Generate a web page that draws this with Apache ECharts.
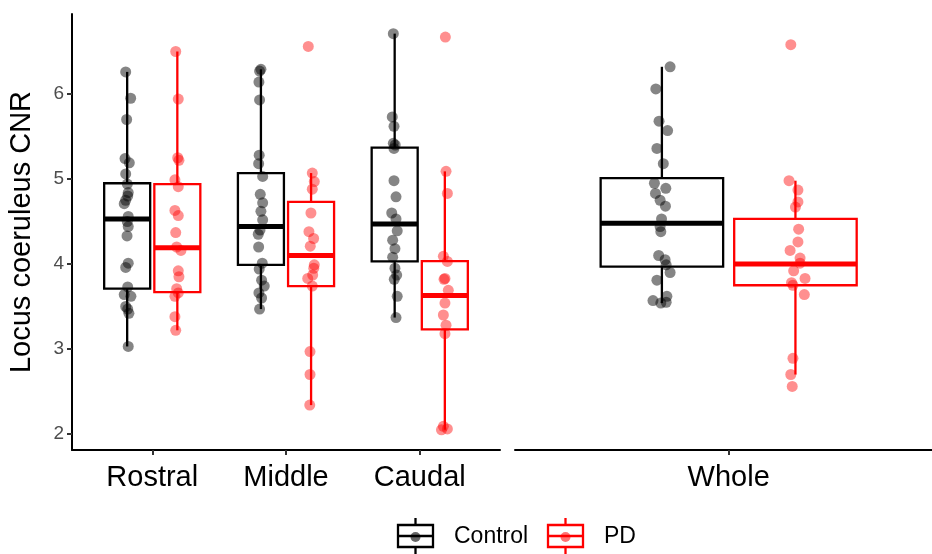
<!DOCTYPE html>
<html>
<head>
<meta charset="utf-8">
<script src="https://cdn.jsdelivr.net/npm/echarts@6/dist/echarts.min.js"></script>
<style>
  html, body { margin: 0; padding: 0; background: #ffffff; }
  #chart { width: 932px; height: 554px; }
</style>
</head>
<body>
<div id="chart"></div>
<script>
// Categories and tick labels
const regions = ['Rostral', 'Middle', 'Caudal'];
const wholeLabel = ['Whole'];
const groups = ['Control', 'PD'];
const yTicks = [2, 3, 4, 5, 6];
const axisTitle = 'Locus coeruleus CNR';

// Individual CNR values per region and group
const rostralControl = [6.26, 5.95, 5.70, 5.24, 5.19, 5.06, 4.94, 4.84, 4.80, 4.75, 4.71, 4.56, 4.50, 4.44, 4.33, 4.01, 3.96, 3.73, 3.64, 3.62, 3.50, 3.47, 3.42, 3.03];
const rostralPD = [6.50, 5.94, 5.25, 5.22, 4.99, 4.91, 4.63, 4.57, 4.37, 4.20, 4.16, 3.92, 3.85, 3.71, 3.66, 3.62, 3.38, 3.22];
const middleControl = [6.29, 6.27, 6.14, 5.93, 5.28, 5.18, 5.03, 4.82, 4.72, 4.62, 4.52, 4.40, 4.35, 4.20, 4.01, 3.94, 3.81, 3.74, 3.66, 3.60, 3.47];
const middlePD = [6.56, 5.07, 4.97, 4.88, 4.60, 4.38, 4.30, 4.21, 3.99, 3.95, 3.87, 3.83, 3.74, 2.97, 2.70, 2.34];
const caudalControl = [6.71, 5.73, 5.62, 5.42, 5.40, 5.36, 4.98, 4.79, 4.60, 4.53, 4.39, 4.28, 4.18, 4.08, 3.95, 3.87, 3.82, 3.62, 3.37];
const caudalPD = [6.67, 5.09, 4.83, 4.09, 4.03, 3.83, 3.82, 3.69, 3.54, 3.40, 3.28, 3.18, 2.09, 2.06, 2.05];
const wholeControl = [6.32, 6.06, 5.68, 5.57, 5.36, 5.18, 4.95, 4.89, 4.83, 4.75, 4.68, 4.53, 4.44, 4.38, 4.10, 4.05, 3.99, 3.90, 3.81, 3.62, 3.57, 3.54, 3.55];
const wholePD = [6.58, 4.98, 4.87, 4.73, 4.67, 4.41, 4.26, 4.16, 4.07, 4.01, 3.92, 3.83, 3.78, 3.75, 3.64, 2.89, 2.70, 2.56];

// Horizontal jitter of each point (category units)
const rostralControlJitter = [-0.011, 0.026, -0.004, -0.016, 0.016, -0.011, 0.001, 0.008, 0.004, -0.011, -0.022, 0.008, 0.001, 0.008, -0.001, 0.008, -0.011, 0.004, -0.022, 0.028, -0.011, 0.004, 0.013, 0.008];
const rostralPDJitter = [-0.012, 0.007, 0.003, 0.012, -0.018, 0.007, -0.018, 0.007, -0.012, -0.005, 0.027, 0.007, 0.012, -0.005, 0.007, -0.018, -0.018, -0.012];
const middleControlJitter = [0, -0.010, -0.015, -0.010, -0.013, -0.017, 0.013, -0.005, 0.013, 0, 0.013, -0.007, -0.020, -0.017, 0.010, -0.013, 0.005, 0.025, -0.015, 0.005, -0.010];
const middlePDJitter = [-0.021, 0.009, 0.024, 0.009, -0.001, -0.016, 0.019, -0.006, 0.024, 0.020, 0.012, -0.025, 0.009, -0.008, -0.008, -0.010];
const caudalControlJitter = [-0.010, -0.018, -0.005, -0.010, 0.004, -0.005, -0.005, 0.010, -0.022, 0.010, 0.019, -0.015, 0.002, -0.015, 0.002, 0.015, -0.003, 0.019, 0.010];
const caudalPDJitter = [0.004, 0.009, 0.019, -0.011, 0.019, 0.001, -0.006, 0.026, 0.001, -0.011, 0.009, 0.001, -0.011, 0.019, -0.025];
const wholeControlJitter = [0.023, -0.017, -0.008, 0.016, -0.014, 0.004, -0.021, 0.011, -0.018, -0.005, 0.010, -0.001, -0.005, -0.003, -0.009, 0.009, 0.012, 0.023, -0.014, 0.014, -0.025, -0.003, 0.012];
const wholePDJitter = [-0.013, -0.018, 0.007, 0.007, 0, 0.009, 0.007, -0.015, 0.013, 0.013, -0.005, 0.027, -0.011, -0.007, 0.025, -0.007, -0.013, -0.009];

// Box summaries: [lower whisker, Q1, median, Q3, upper whisker]
const rostralControlBox = [3.03, 3.71, 4.53, 4.95, 6.26];
const rostralPDBox = [3.22, 3.67, 4.19, 4.94, 6.50];
const middleControlBox = [3.47, 3.99, 4.44, 5.07, 6.29];
const middlePDBox = [2.34, 3.74, 4.10, 4.73, 5.07];
const caudalControlBox = [3.37, 4.03, 4.47, 5.37, 6.71];
const caudalPDBox = [2.05, 3.23, 3.63, 4.035, 5.09];
const wholeControlBox = [3.54, 3.97, 4.48, 5.01, 6.32];
const wholePDBox = [2.70, 3.75, 4.00, 4.53, 4.98];

// Styling
const DODGE = 0.1875;
const HALF_BOX = 0.172;
const CONTROL_LINE = '#000000';
const PD_LINE = '#FF0000';
const CONTROL_POINT = 'rgba(0,0,0,0.6)';
const PD_POINT = 'rgba(255,0,0,0.55)';
const FONT = 'Liberation Sans, Arial, Helvetica, sans-serif';
const Y_MIN = 1.812, Y_MAX = 6.941;

function boxItem(cat, offset, box) {
  return [cat + offset].concat(box);
}
function pointItems(cat, offset, values, jitter) {
  return values.map((v, i) => [cat + offset + jitter[i], v]);
}

function makeRenderer(color) {
  return function (params, api) {
    const x = api.value(0);
    const lo = api.value(1), q1 = api.value(2), med = api.value(3), q3 = api.value(4), hi = api.value(5);
    const pHi = api.coord([x, hi]);
    const pQ3 = api.coord([x, q3]);
    const pQ1 = api.coord([x, q1]);
    const pLo = api.coord([x, lo]);
    const left = api.coord([x - HALF_BOX, med]);
    const right = api.coord([x + HALF_BOX, med]);
    const lineStyle = { stroke: color, lineWidth: 2.3, fill: null };
    return {
      type: 'group',
      children: [
        { type: 'line', shape: { x1: pHi[0], y1: pHi[1], x2: pQ3[0], y2: pQ3[1] }, style: lineStyle },
        { type: 'line', shape: { x1: pQ1[0], y1: pQ1[1], x2: pLo[0], y2: pLo[1] }, style: lineStyle },
        { type: 'rect', shape: { x: left[0], y: pQ3[1], width: right[0] - left[0], height: pQ1[1] - pQ3[1] },
          style: { stroke: color, lineWidth: 2.3, fill: '#ffffff' } },
        { type: 'line', shape: { x1: left[0], y1: left[1], x2: right[0], y2: right[1] },
          style: { stroke: color, lineWidth: 5, fill: null } }
      ]
    };
  };
}

// Legend key drawn as a small box glyph with a point, followed by its label
function legendKey(x, line, point, label, textX) {
  const cy = 536, w = 35;
  return {
    type: 'group', silent: true,
    children: [
      { type: 'line', shape: { x1: x + w / 2, y1: 518, x2: x + w / 2, y2: 525 }, style: { stroke: line, lineWidth: 2.3 } },
      { type: 'line', shape: { x1: x + w / 2, y1: 547, x2: x + w / 2, y2: 554 }, style: { stroke: line, lineWidth: 2.3 } },
      { type: 'rect', shape: { x: x, y: 525, width: w, height: 22 }, style: { stroke: line, lineWidth: 2.3, fill: '#fff' } },
      { type: 'line', shape: { x1: x, y1: cy, x2: x + w, y2: cy }, style: { stroke: line, lineWidth: 2.3 } },
      { type: 'circle', shape: { cx: x + w / 2, cy: cy + 1, r: 5 }, style: { fill: point } },
      { type: 'text', x: textX, y: cy + 1, style: { text: label, fill: '#000', font: '23px ' + FONT, verticalAlign: 'middle' } }
    ]
  };
}

const regionControlBoxes = [rostralControlBox, middleControlBox, caudalControlBox];
const regionPDBoxes = [rostralPDBox, middlePDBox, caudalPDBox];
const regionControlVals = [rostralControl, middleControl, caudalControl];
const regionPDVals = [rostralPD, middlePD, caudalPD];
const regionControlJit = [rostralControlJitter, middleControlJitter, caudalControlJitter];
const regionPDJit = [rostralPDJitter, middlePDJitter, caudalPDJitter];

let leftControlPts = [], leftPDPts = [];
regions.forEach((r, i) => {
  leftControlPts = leftControlPts.concat(pointItems(i + 1, -DODGE, regionControlVals[i], regionControlJit[i]));
  leftPDPts = leftPDPts.concat(pointItems(i + 1, DODGE, regionPDVals[i], regionPDJit[i]));
});

const yAxisBase = {
  type: 'value', min: Y_MIN, max: Y_MAX,
  splitLine: { show: false }
};

const xLabelStyle = { color: '#000', fontSize: 29, fontFamily: FONT, margin: 13 };

const option = {
  animation: false,
  backgroundColor: '#ffffff',
  grid: [
    { left: 72, top: 14, width: 428, height: 436 },
    { left: 515, top: 14, width: 417, height: 436 }
  ],
  xAxis: [
    {
      type: 'value', gridIndex: 0, min: 0.4, max: 3.6,
      splitLine: { show: false },
      axisLine: { show: true, onZero: false, lineStyle: { color: '#000', width: 2 } },
      axisTick: { show: true, length: 5, customValues: [1, 2, 3], lineStyle: { color: '#333', width: 2 } },
      axisLabel: Object.assign({ customValues: [1, 2, 3], formatter: v => regions[Math.round(v) - 1] }, xLabelStyle)
    },
    {
      // panel is cut at the right edge of the canvas
      type: 'value', gridIndex: 1, min: 0.4, max: 1.571,
      splitLine: { show: false },
      axisLine: { show: true, onZero: false, lineStyle: { color: '#000', width: 2 } },
      axisTick: { show: true, length: 5, customValues: [1], lineStyle: { color: '#333', width: 2 } },
      axisLabel: Object.assign({ customValues: [1], formatter: () => wholeLabel[0] }, xLabelStyle)
    }
  ],
  yAxis: [
    Object.assign({}, yAxisBase, {
      gridIndex: 0,
      name: axisTitle, nameLocation: 'middle', nameGap: 36, nameRotate: 90,
      nameTextStyle: { color: '#000', fontSize: 29, fontFamily: FONT },
      axisLine: { show: true, onZero: false, lineStyle: { color: '#000', width: 2 } },
      axisTick: { show: true, length: 5, customValues: yTicks, lineStyle: { color: '#333', width: 2 } },
      axisLabel: { customValues: yTicks, color: '#4D4D4D', fontSize: 19, fontFamily: FONT, margin: 8 }
    }),
    Object.assign({}, yAxisBase, {
      gridIndex: 1,
      axisLine: { show: false }, axisTick: { show: false }, axisLabel: { show: false }
    })
  ],
  series: [
    { name: 'Control', type: 'custom', xAxisIndex: 0, yAxisIndex: 0, z: 2,
      renderItem: makeRenderer(CONTROL_LINE),
      data: regionControlBoxes.map((b, i) => boxItem(i + 1, -DODGE, b)) },
    { name: 'PD', type: 'custom', xAxisIndex: 0, yAxisIndex: 0, z: 2,
      renderItem: makeRenderer(PD_LINE),
      data: regionPDBoxes.map((b, i) => boxItem(i + 1, DODGE, b)) },
    { name: 'Control', type: 'custom', xAxisIndex: 1, yAxisIndex: 1, z: 2,
      renderItem: makeRenderer(CONTROL_LINE),
      data: [boxItem(1, -DODGE, wholeControlBox)] },
    { name: 'PD', type: 'custom', xAxisIndex: 1, yAxisIndex: 1, z: 2,
      renderItem: makeRenderer(PD_LINE),
      data: [boxItem(1, DODGE, wholePDBox)] },
    { name: 'Control', type: 'scatter', xAxisIndex: 0, yAxisIndex: 0, z: 3,
      symbolSize: 11, itemStyle: { color: CONTROL_POINT }, data: leftControlPts },
    { name: 'PD', type: 'scatter', xAxisIndex: 0, yAxisIndex: 0, z: 3,
      symbolSize: 11, itemStyle: { color: PD_POINT }, data: leftPDPts },
    { name: 'Control', type: 'scatter', xAxisIndex: 1, yAxisIndex: 1, z: 3,
      symbolSize: 11, itemStyle: { color: CONTROL_POINT },
      data: pointItems(1, -DODGE, wholeControl, wholeControlJitter) },
    { name: 'PD', type: 'scatter', xAxisIndex: 1, yAxisIndex: 1, z: 3,
      symbolSize: 11, itemStyle: { color: PD_POINT },
      data: pointItems(1, DODGE, wholePD, wholePDJitter) }
  ],
  graphic: [
    legendKey(398, CONTROL_LINE, CONTROL_POINT, groups[0], 454),
    legendKey(548, PD_LINE, PD_POINT, groups[1], 604)
  ]
};

const chart = echarts.init(document.getElementById('chart'), null, { renderer: 'canvas' });
chart.setOption(option);
</script>
</body>
</html>
